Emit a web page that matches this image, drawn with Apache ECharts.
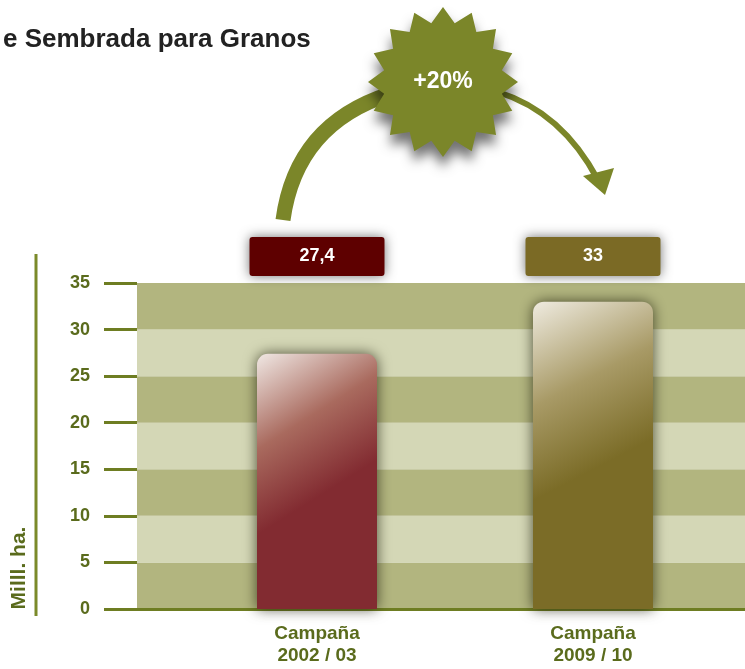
<!DOCTYPE html>
<html>
<head>
<meta charset="utf-8">
<script src="https://cdn.jsdelivr.net/npm/echarts@6/dist/echarts.min.js"></script>
<style>
  html, body { margin: 0; padding: 0; background: #fff; }
  #chart { width: 745px; height: 669px; }
</style>
</head>
<body>
<div id="chart"></div>
<script>
// --- data ---
const categories = ['Campaña\n2002 / 03', 'Campaña\n2009 / 10'];
const values = [27.4, 33];
const yTicks = [0, 5, 10, 15, 20, 25, 30, 35];
const barBase = ['#822b31', '#7b6c27'];
const barMid = ['#a96a5e', '#a89a66'];
const barLight = ['#f0e8e4', '#efebe0'];
const boxColors = ['#5e0000', '#7b6a25'];

const olive = '#6e7d22';
const labelColor = '#5a6b1c';
const font = 'Liberation Sans';

// growth bubble text
const growth = Math.round((values[1] / values[0] - 1) * 100);

// starburst points
function starPoints(cx, cy, rOut, rIn, n) {
    const pts = [];
    for (let i = 0; i < n * 2; i++) {
        const r = i % 2 === 0 ? rOut : rIn;
        const a = -Math.PI / 2 + i * Math.PI / n;
        pts.push([cx + r * Math.cos(a), cy + r * Math.sin(a)]);
    }
    return pts;
}

const chart = echarts.init(document.getElementById('chart'));

chart.setOption({
    animation: false,
    textStyle: { fontFamily: font },
    title: {
        text: 'e Sembrada para Granos',
        left: -2, top: 22,
        textStyle: { fontSize: 26, fontWeight: 'bold', color: '#222', fontFamily: font }
    },
    grid: [
        { left: 137, right: 0, top: 283, bottom: 60 },   // stripes + axis
        { left: 179, right: 14, top: 283, bottom: 60 },  // bars
        { left: 179, right: 14, top: 237, height: 39 }   // value boxes
    ],
    xAxis: [
        {
            gridIndex: 0, type: 'category', data: ['', ''],
            axisLine: { show: true, lineStyle: { color: olive, width: 3 } },
            axisTick: { show: false }, axisLabel: { show: false }
        },
        {
            gridIndex: 1, type: 'category', data: categories,
            axisLine: { show: false }, axisTick: { show: false },
            axisLabel: {
                color: labelColor, fontSize: 19, fontWeight: 'bold', fontFamily: font,
                lineHeight: 22, margin: 14
            }
        },
        {
            gridIndex: 2, type: 'category', data: categories, show: false
        }
    ],
    yAxis: [
        {
            gridIndex: 0, type: 'value', min: yTicks[0], max: yTicks[yTicks.length - 1], interval: 5,
            axisLine: { show: false },
            axisTick: { show: true, length: 33, lineStyle: { color: olive, width: 3 } },
            axisLabel: { color: labelColor, fontSize: 18, fontWeight: 'bold', fontFamily: font, margin: 47 },
            splitLine: { show: false },
            splitArea: { show: true, areaStyle: { color: ['#b2b57f', '#d4d7b6'] } }
        },
        { gridIndex: 1, type: 'value', min: 0, max: 35, show: false, splitLine: { show: false } },
        { gridIndex: 2, type: 'value', min: 0, max: 1, show: false, splitLine: { show: false } }
    ],
    series: [
        {
            type: 'bar', xAxisIndex: 1, yAxisIndex: 1, barWidth: 120,
            data: values.map((v, i) => ({
                value: v,
                itemStyle: {
                    borderRadius: [11, 11, 0, 0],
                    shadowBlur: 14, shadowColor: 'rgba(30,30,10,0.75)',
                    color: new echarts.graphic.LinearGradient(0, 0, 0.8, 0.6, [
                        { offset: 0, color: barLight[i] },
                        { offset: 0.45, color: barMid[i] },
                        { offset: 0.85, color: barBase[i] },
                        { offset: 1, color: barBase[i] }
                    ])
                }
            }))
        },
        {
            type: 'bar', xAxisIndex: 2, yAxisIndex: 2, barWidth: 135, silent: true,
            data: values.map((v, i) => ({
                value: 1,
                itemStyle: {
                    color: boxColors[i], borderRadius: 3,
                    shadowBlur: 12, shadowColor: 'rgba(0,0,0,0.55)'
                }
            })),
            label: {
                show: true, position: 'inside', color: '#fff', fontSize: 18, fontWeight: 'bold',
                fontFamily: font,
                formatter: p => String(values[p.dataIndex]).replace('.', ',')
            }
        }
    ],
    graphic: [
        {
            type: 'line', z: 10,
            shape: { x1: 36, y1: 254, x2: 36, y2: 616 },
            style: { stroke: '#7b8a2a', lineWidth: 3 }
        },
        {
            type: 'text', z: 10, x: 19, y: 568, rotation: Math.PI / 2,
            style: {
                text: 'Milll. ha.', fill: labelColor, font: 'bold 21px ' + font,
                textAlign: 'center', textVerticalAlign: 'middle'
            }
        },
        {
            type: 'bezierCurve', z: 10,
            shape: { x1: 283, y1: 220, cpx1: 296, cpy1: 124, x2: 390, y2: 94 },
            style: { stroke: '#7b8629', lineWidth: 15, fill: null }
        },
        {
            type: 'bezierCurve', z: 10,
            shape: { x1: 498, y1: 92, cpx1: 562, cpy1: 112, x2: 598, y2: 180 },
            style: { stroke: '#7b8629', lineWidth: 6, fill: null }
        },
        {
            type: 'polygon', z: 10,
            shape: { points: [[583, 176], [614, 168], [605, 195]] },
            style: { fill: '#7b8629' }
        },
        {
            type: 'polygon', z: 11,
            shape: { points: starPoints(443, 82, 75, 60, 16) },
            style: {
                fill: '#7b8629', shadowBlur: 12, shadowOffsetY: 10,
                shadowColor: 'rgba(0,0,0,0.55)'
            }
        },
        {
            type: 'text', z: 12, x: 443, y: 82,
            style: {
                text: '+' + growth + '%', fill: '#fff', font: 'bold 23px ' + font,
                textAlign: 'center', textVerticalAlign: 'middle'
            }
        }
    ]
});
</script>
</body>
</html>
